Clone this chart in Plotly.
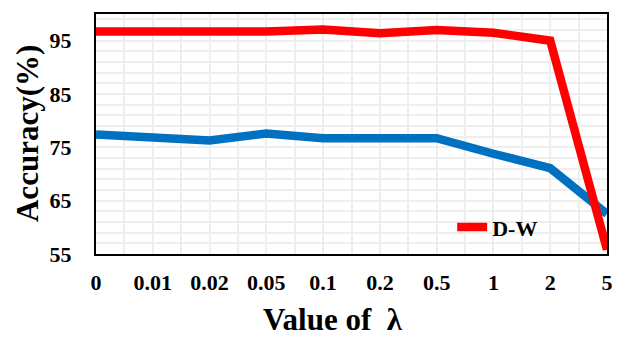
import plotly.graph_objects as go

categories = ["0", "0.01", "0.02", "0.05", "0.1", "0.2", "0.5", "1", "2", "5"]
dw_values = [96.7, 96.7, 96.7, 96.7, 97.1, 96.4, 97.0, 96.5, 95.0, 55.8]
blue_values = [77.4, 76.7, 76.3, 77.6, 76.7, 76.7, 76.7, 73.8, 71.1, 62.5]
y_ticks = [55, 65, 75, 85, 95]

FONT = "Liberation Serif"
xpos = list(range(len(categories)))
GRID = "#eeeeee"

fig = go.Figure()
fig.add_trace(go.Scatter(
    x=xpos, y=blue_values, mode="lines",
    line=dict(color="#0070C0", width=8.5), showlegend=False, name="",
))
fig.add_trace(go.Scatter(
    x=xpos, y=dw_values, mode="lines",
    line=dict(color="#FF0000", width=8.5), name="<b>D-W</b>",
))

# page body has an 8px default margin, so the figure is offset by 8px
fig.update_layout(
    width=614, height=333,
    margin=dict(l=88, r=15, t=4, b=87),
    paper_bgcolor="white", plot_bgcolor="white",
    font=dict(family=FONT, size=22, color="black"),
    showlegend=True,
    legend=dict(
        x=0.697, y=0.112, xanchor="left", yanchor="middle",
        bgcolor="rgba(0,0,0,0)", font=dict(family=FONT, size=22, color="black"),
    ),
    xaxis=dict(
        range=[0, len(categories) - 1],
        tickmode="array", tickvals=xpos, ticktext=[f"<b>{c}</b>" for c in categories],
        showgrid=True, gridcolor=GRID, gridwidth=2,
        minor=dict(dtick=0.5, showgrid=True, gridcolor=GRID, gridwidth=2),
        showline=True, linecolor="black", linewidth=2, mirror=True,
        ticks="outside", ticklen=8, tickcolor="rgba(0,0,0,0)", zeroline=False,
        tickfont=dict(family=FONT, size=22, color="black"),
    ),
    yaxis=dict(
        range=[55, 100],
        tickmode="array", tickvals=y_ticks, ticktext=[f"<b>{v}</b>" for v in y_ticks],
        showgrid=True, gridcolor=GRID, gridwidth=2,
        minor=dict(dtick=2, tick0=55, showgrid=True, gridcolor=GRID, gridwidth=2),
        showline=True, linecolor="black", linewidth=2, mirror=True,
        ticks="outside", ticklen=18, tickcolor="rgba(0,0,0,0)", zeroline=False,
        tickfont=dict(family=FONT, size=22, color="black"),
    ),
    annotations=[
        dict(text="<b>Value of  λ</b>", xref="paper", yref="paper",
             x=0.4638, y=-0.273, xanchor="center", yanchor="middle",
             showarrow=False, font=dict(family=FONT, size=31, color="black")),
        dict(text="<b>Accuracy(%)</b>", xref="paper", yref="paper",
             x=-0.135, y=0.5, xanchor="center", yanchor="middle", textangle=-90,
             showarrow=False, font=dict(family=FONT, size=31, color="black")),
    ],
)

fig.write_html("out.html")
